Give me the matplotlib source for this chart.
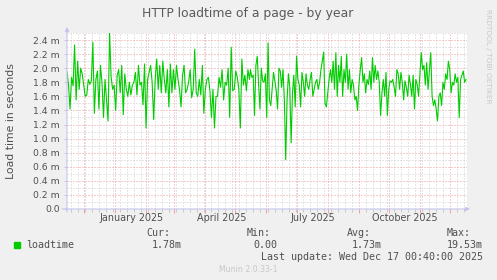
import numpy as np
import pandas as pd
import matplotlib
matplotlib.use('Agg')
import matplotlib.pyplot as plt
import matplotlib.dates as mdates
from matplotlib.ticker import MultipleLocator, FuncFormatter

# loadtime values in milliseconds
load_part1 = [1.95, 1.76, 1.42, 1.87, 1.75, 2.33, 1.55, 2.10, 1.70, 2.00, 1.92, 1.76, 1.60, 1.62, 1.84,
              1.77, 1.82, 2.37, 1.36, 1.84, 1.96, 1.42, 2.04, 1.80, 1.30, 1.84, 1.55, 1.25, 2.51, 1.88,
              1.70, 1.76, 1.40, 1.90, 1.98, 1.65, 2.04, 1.34, 1.92, 1.70, 1.60, 1.80, 1.62, 1.76, 1.80,
              1.94, 1.62, 2.04, 1.76, 1.80, 1.48, 2.06, 1.15, 1.84, 1.94, 2.04, 1.80, 1.27, 1.84, 2.13,
              1.70, 2.04, 1.65, 2.10, 1.84, 1.65, 1.98, 1.45, 2.06, 1.65, 1.98, 1.70, 2.04, 1.84, 1.70,
              1.45, 1.90, 2.04, 1.65, 1.70, 1.80, 1.98, 1.58, 1.70, 2.27, 1.65, 1.60, 1.84, 1.62, 2.04,
              1.36, 1.70, 1.84, 1.87, 1.68, 1.30, 1.70, 1.15, 1.60, 1.60, 1.87, 1.73, 1.98, 1.55, 1.80,
              1.76, 2.00, 1.30, 2.30, 1.68, 1.70, 1.96, 1.87, 1.70, 1.15, 2.13, 1.76, 1.90, 1.68, 1.98,
              1.84]
load_part2 = [1.98, 1.87, 1.90, 1.33, 2.04, 2.17, 1.77, 1.42, 2.00, 1.82, 1.80, 1.92, 1.30, 2.36, 1.55,
              1.47, 1.70, 1.94, 1.82, 1.68, 1.42, 2.00, 1.96, 1.73, 1.98, 1.55, 0.70, 1.55, 1.92, 1.73,
              0.94, 1.65, 1.90, 1.45, 2.17, 1.84, 1.76, 1.45, 1.94, 1.80, 1.60, 1.92, 1.76, 1.70, 1.84,
              1.94, 1.60, 1.70, 1.80, 1.84, 1.70, 1.80, 1.98, 2.10, 2.23, 1.50, 1.45, 1.65, 1.84, 1.98,
              1.80, 2.10, 1.70, 2.22, 1.60, 2.04, 1.80, 2.17, 1.60, 1.98, 1.80, 2.20, 1.70, 1.98, 1.65,
              1.84, 1.76, 1.55, 1.60, 1.40, 1.76, 1.98, 2.15, 1.80, 1.92, 1.65, 1.84, 1.77, 1.96, 1.70,
              2.15, 1.80, 2.04, 1.84, 1.96, 1.80, 1.33, 1.65, 1.84, 1.60, 1.94, 1.33, 1.70, 1.82, 1.80,
              1.84, 1.73, 1.60, 1.98, 1.92, 1.70, 1.94, 1.80, 1.55, 1.82, 1.73, 1.60, 1.90, 1.77, 1.60,
              1.90, 1.42, 1.84, 1.77, 1.60, 1.90, 2.22, 1.98, 2.04, 1.76, 2.08, 1.70, 1.96, 2.22, 1.60,
              1.47, 1.55, 1.42, 1.25, 1.60, 1.65, 1.47, 1.80, 1.70, 1.92, 1.84, 2.10, 1.98, 1.65, 1.80,
              1.76, 1.92, 1.80, 1.87, 1.30, 1.84, 1.90, 1.96, 1.80, 1.84]

part1_span = ('2024-11-14', '2025-05-15')
part2_span = ('2025-05-16', '2025-12-17')
view_span = ('2024-11-14', '2025-12-18')

month_labels = ['January 2025', 'April 2025', 'July 2025', 'October 2025']
month_label_dates = ['2025-01-17', '2025-04-17', '2025-07-17', '2025-10-17']

legend_heads = ['Cur:', 'Min:', 'Avg:', 'Max:']
legend_vals = ['1.78m', '0.00', '1.73m', '19.53m']

dates = np.concatenate([pd.date_range(*part1_span, periods=len(load_part1)),
                        pd.date_range(*part2_span, periods=len(load_part2))])
values = load_part1 + load_part2

W, H = 497, 280
bg = '#f0f0f0'
txt = '#505050'
axcol = '#c4c4ee'

fig = plt.figure(figsize=(W / 100, H / 100), dpi=100, facecolor=bg)
ax = fig.add_axes([67 / W, (H - 209) / H, 400 / W, 176 / H])
ax.set_facecolor('white')

ax.plot(dates, values, color='#00cc00', lw=0.8, zorder=3)

ax.set_xlim(pd.Timestamp(view_span[0]), pd.Timestamp(view_span[1]))
ax.set_ylim(0, 2.5)

# grid: red dotted majors, grey dotted minors
ax.xaxis.set_major_locator(mdates.MonthLocator())
ax.xaxis.set_minor_locator(mdates.WeekdayLocator(byweekday=mdates.MO))
ax.xaxis.set_major_formatter(FuncFormatter(lambda v, p: ''))
ax.yaxis.set_major_locator(MultipleLocator(0.2))
ax.yaxis.set_minor_locator(MultipleLocator(0.1))
ax.yaxis.set_major_formatter(FuncFormatter(lambda v, p: '0.0' if abs(v) < 1e-9 else f'{v:.1f} m'))

dots = (0, (1, 2))
ax.grid(which='minor', color='#cfcfcf', lw=0.72, ls=dots, zorder=0)
ax.grid(which='major', color='#f09a9a', lw=0.72, ls=dots, zorder=1)
ax.set_axisbelow(True)

for s in ax.spines.values():
    s.set_visible(False)

ax.tick_params(axis='x', which='major', length=3, width=0.7, color='#f2a0a0')
ax.tick_params(axis='x', which='minor', length=2, width=0.7, color='#c8c8c8')
ax.tick_params(axis='y', which='major', length=2, width=0.7, color=axcol, pad=3,
               labelsize=6.7, labelcolor=txt)
ax.tick_params(axis='y', which='minor', length=0)

for lab, d in zip(month_labels, month_label_dates):
    ax.text(pd.Timestamp(d), -0.05, lab, transform=ax.get_xaxis_transform(),
            ha='center', va='center', fontsize=6.9, color=txt)

# axis lines with arrows
ax.annotate('', xy=(470 / W, (H - 209) / H), xytext=(62 / W, (H - 209) / H),
            xycoords='figure fraction', textcoords='figure fraction',
            arrowprops=dict(arrowstyle='-|>', color=axcol, lw=0.8, mutation_scale=6,
                            shrinkA=0, shrinkB=0))
ax.annotate('', xy=(67 / W, (H - 27) / H), xytext=(67 / W, (H - 212) / H),
            xycoords='figure fraction', textcoords='figure fraction',
            arrowprops=dict(arrowstyle='-|>', color=axcol, lw=0.8, mutation_scale=6,
                            shrinkA=0, shrinkB=0))

def ftext(x, y, s, **kw):
    fig.text(x / W, 1 - y / H, s, **kw)

ftext(248, 13, 'HTTP loadtime of a page - by year', ha='center', va='center',
      fontsize=8.9, color='#5a5a5a')
ftext(11, 121, 'Load time in seconds', ha='center', va='center', rotation=90,
      fontsize=7.8, color=txt)
ftext(488, 56, 'RRDTOOL / TOBI OETIKER', ha='center', va='center', rotation=270,
      fontsize=5.3, color='#c8c8c8')

# legend
mono = dict(family='DejaVu Sans Mono', fontsize=7.2, color=txt, va='center')
fig.patches.append(plt.Rectangle((14 / W, 1 - 248 / H), 6 / W, 6 / H,
                                 transform=fig.transFigure, color='#00cc00', figure=fig))
ftext(26, 245, 'loadtime', ha='left', **mono)
head_x = [146, 247, 347, 447]
val_x = [152, 253, 352, 447]
for hx, vx, h, v in zip(head_x, val_x, legend_heads, legend_vals):
    ftext(hx, 233, h, ha='left', **mono)
    ftext(vx, 245, v, ha='left', **mono)
ftext(483, 257.5, 'Last update: Wed Dec 17 00:40:00 2025', ha='right', **mono)
ftext(248, 269.5, 'Munin 2.0.33-1', ha='center', va='center', fontsize=5.6, color='#c8c8c8')

fig.savefig('out.png', dpi=100, facecolor=bg)
